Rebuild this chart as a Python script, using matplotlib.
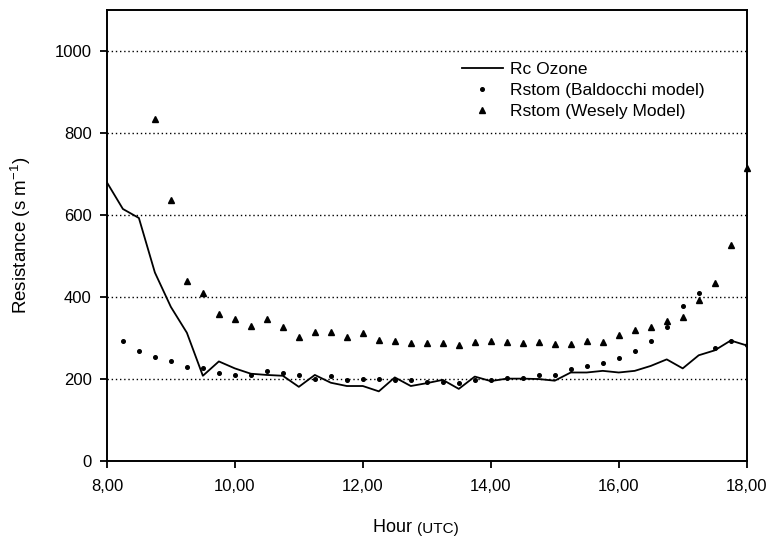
import matplotlib
matplotlib.use("Agg")
import matplotlib.pyplot as plt
from matplotlib.ticker import FuncFormatter

plt.rcParams['font.family'] = ['Liberation Sans', 'DejaVu Sans']
plt.rcParams['mathtext.fontset'] = 'custom'
plt.rcParams['mathtext.rm'] = 'Liberation Sans'
plt.rcParams['mathtext.default'] = 'regular'

# quarter-hour times, 8:00 to 18:00
hours = [8 + 0.25 * i for i in range(41)]

rc_ozone = [680, 615, 593, 460, 376, 313, 208, 243, 226, 213, 210, 208, 181, 210, 191,
            183, 183, 170, 204, 183, 190, 198, 176, 206, 195, 201, 201, 200, 196, 216,
            216, 220, 216, 220, 232, 248, 226, 258, 270, 294, 282]

baldocchi_hours = hours[1:]
baldocchi = [292, 269, 254, 244, 229, 226, 214, 211, 211, 220, 214, 210, 200, 207, 197,
             200, 200, 197, 197, 194, 194, 191, 197, 197, 203, 203, 211, 211, 225, 233,
             239, 252, 268, 292, 327, 379, 409, 275, 294, 282]

wesely_hours = hours[3:]
wesely = [835, 638, 439, 409, 359, 346, 329, 347, 327, 302, 315, 316, 303, 313, 295,
          292, 287, 287, 287, 284, 290, 292, 290, 289, 290, 285, 285, 293, 290, 307,
          319, 328, 341, 351, 394, 435, 527, 716]

fig = plt.figure(figsize=(7.69, 5.37), dpi=100)
ax = fig.add_axes([0.139, 0.1415, 0.832, 0.8395])

ax.plot(hours, rc_ozone, color='black', lw=1.3, label='Rc Ozone', zorder=3)
ax.plot(baldocchi_hours, baldocchi, ls='none', marker='o', ms=2.6, color='black',
        label='Rstom (Baldocchi model)', zorder=4)
ax.plot(wesely_hours, wesely, ls='none', marker='^', ms=4.6, color='black',
        label='Rstom (Wesely Model)', zorder=4, clip_on=False)

ax.set_xlim(8, 18)
ax.set_ylim(0, 1100)
ax.set_xticks([8, 10, 12, 14, 16, 18])
ax.set_yticks([0, 200, 400, 600, 800, 1000])
ax.xaxis.set_major_formatter(FuncFormatter(lambda v, p: f"{v:.2f}".replace('.', ',')))
ax.tick_params(direction='out', length=5, width=1.3, labelsize=12)
ax.tick_params(axis='x', pad=8)
ax.tick_params(axis='y', pad=6)

for y in [200, 400, 600, 800, 1000]:
    ax.axhline(y, color='black', lw=1, ls=(0, (1, 2)), zorder=1)

for s in ax.spines.values():
    s.set_linewidth(1.4)

ax.set_ylabel('Resistance (s m$^{-1}$)', fontsize=13.5)
ax.yaxis.set_label_coords(-0.116, 0.5)
t = ax.text(0.484, -0.157, 'Hour ', transform=ax.transAxes, fontsize=13,
            ha='right', va='baseline')
ax.annotate('(UTC)', xy=(1, 0), xycoords=t, fontsize=11, ha='left', va='bottom')

ax.legend(loc='upper left', bbox_to_anchor=(0.544, 0.9), frameon=False, fontsize=12.5,
          handlelength=2.35, handletextpad=0.4, labelspacing=0.33, borderaxespad=0)

fig.savefig('out.png', dpi=100)
